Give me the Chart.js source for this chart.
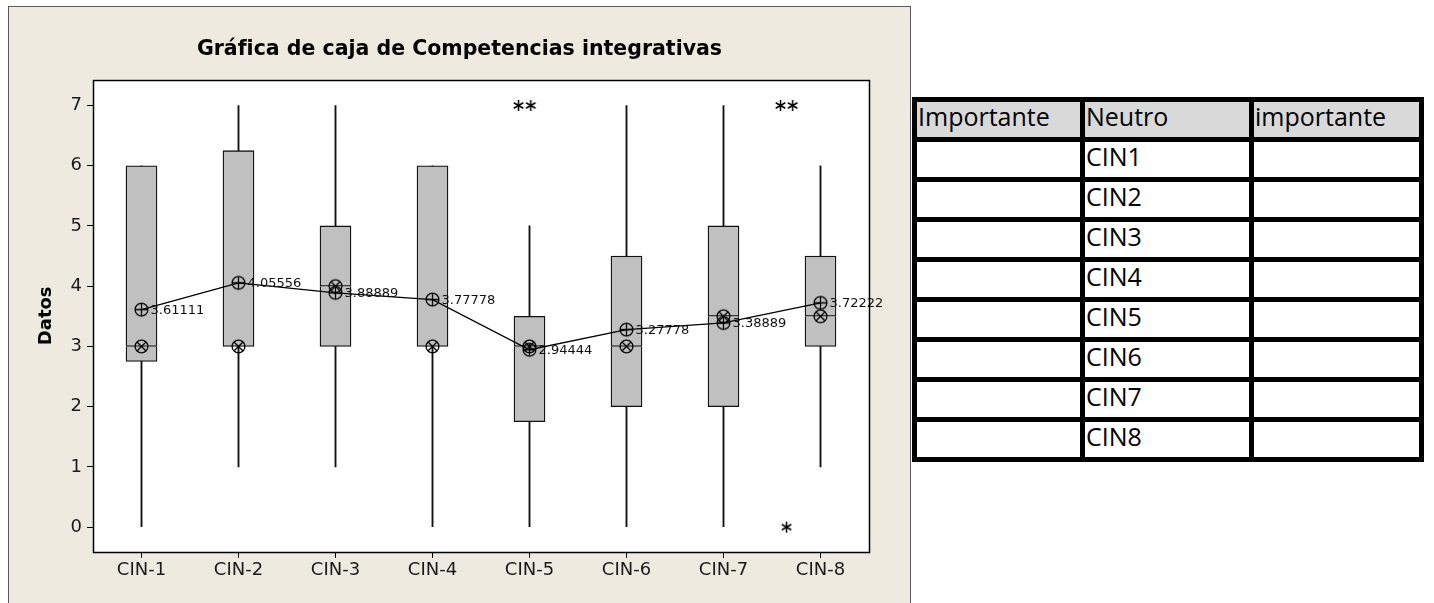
<!DOCTYPE html>
<html lang="es">
<head>
<meta charset="utf-8">
<title>Gráfica de caja de Competencias integrativas</title>
<script src="https://cdn.jsdelivr.net/npm/chart.js@4.4.1/dist/chart.umd.min.js"></script>
<style>
  html, body { margin: 0; padding: 0; background: #fff; width: 1434px; height: 603px; overflow: hidden; }
  #frame { position: absolute; left: 8px; top: 6px; width: 901px; height: 620px;
           border: 1px solid #5a5a5a; background: #EEEAE0; }
  #chart { position: absolute; left: 0; top: 0; }
  #tbl { position: absolute; left: 912px; top: 97px; display: grid;
         grid-template-columns: 163px 164px 165px; grid-auto-rows: 35px; gap: 5px;
         padding: 5px; background: #000; font-family: "Open Sans", sans-serif; font-size: 25px; color: #000; }
  #tbl div { background: #fff; line-height: 29px; padding-left: 1px; white-space: nowrap; overflow: hidden; }
  #tbl div.h { background: #D9D9D9; }
</style>
</head>
<body>
<div id="frame"><canvas id="chart" width="901" height="596"></canvas></div>
<div id="tbl"></div>
<script>
// Box plot summary per competence
const categories  = ['CIN-1', 'CIN-2', 'CIN-3', 'CIN-4', 'CIN-5', 'CIN-6', 'CIN-7', 'CIN-8'];
const whiskerLow  = [0, 1, 1, 0, 0, 0, 0, 1];
const q1          = [2.75, 3, 3, 3, 1.75, 2, 2, 3];
const medians     = [3, 3, 4, 3, 3, 3, 3.5, 3.5];
const q3          = [6, 6.25, 5, 6, 3.5, 4.5, 5, 4.5];
const whiskerHigh = [6, 7, 7, 6, 5, 7, 7, 6];
const means       = [3.61111, 4.05556, 3.88889, 3.77778, 2.94444, 3.27778, 3.38889, 3.72222];

// Atypical values (one entry per observation)
const outlierCategory = ['CIN-5', 'CIN-5', 'CIN-8', 'CIN-8', 'CIN-8'];
const outlierValues   = [7, 7, 7, 7, 0];

const yTicks = [0, 1, 2, 3, 4, 5, 6, 7];

// Classification table
const tableHeaders = ['Importante', 'Neutro', 'importante'];
const neutralItems = ['CIN1', 'CIN2', 'CIN3', 'CIN4', 'CIN5', 'CIN6', 'CIN7', 'CIN8'];

// ---- table ----
const tbl = document.getElementById('tbl');
tableHeaders.forEach(h => { const d = document.createElement('div'); d.className = 'h'; d.textContent = h; tbl.appendChild(d); });
neutralItems.forEach(item => {
  ['', item, ''].forEach(t => { const d = document.createElement('div'); d.textContent = t; tbl.appendChild(d); });
});

// ---- marker glyphs ----
function circleGlyph(kind) {
  const s = 17, c = document.createElement('canvas');
  c.width = s; c.height = s;
  const g = c.getContext('2d');
  const m = s / 2, r = 6.4;
  g.strokeStyle = '#000'; g.lineWidth = 1.3;
  g.beginPath(); g.arc(m, m, r, 0, Math.PI * 2); g.stroke();
  g.beginPath();
  if (kind === 'plus') {
    g.moveTo(m - r, m); g.lineTo(m + r, m);
    g.moveTo(m, m - r); g.lineTo(m, m + r);
  } else {
    const d = r * Math.SQRT1_2;
    g.moveTo(m - d, m - d); g.lineTo(m + d, m + d);
    g.moveTo(m + d, m - d); g.lineTo(m - d, m + d);
  }
  g.stroke();
  return c;
}
function asteriskGlyph() {
  const s = 13, c = document.createElement('canvas');
  c.width = s; c.height = s;
  const g = c.getContext('2d');
  const m = s / 2, r = 5.5;
  g.strokeStyle = '#000'; g.lineWidth = 1.5;
  g.beginPath();
  [90, 30, 150].forEach(deg => {
    const a = deg * Math.PI / 180;
    g.moveTo(m - r * Math.cos(a), m - r * Math.sin(a));
    g.lineTo(m + r * Math.cos(a), m + r * Math.sin(a));
  });
  g.stroke();
  return c;
}
const meanGlyph = circleGlyph('plus');
const medianGlyph = circleGlyph('cross');
const starGlyph = asteriskGlyph();

// Spread repeated atypical values side by side
const groups = {};
outlierCategory.forEach((cat, i) => { const k = cat + '|' + outlierValues[i]; (groups[k] = groups[k] || []).push(i); });
const outlierPoints = [];
Object.values(groups).forEach(idx => {
  idx.forEach((i, k) => {
    const shift = (k - (idx.length - 1) / 2) * 0.14;
    outlierPoints.push({ x: categories.indexOf(outlierCategory[i]) + shift, y: outlierValues[i] });
  });
});

// ---- plugins ----
const plotFrame = {
  id: 'plotFrame',
  beforeDraw(c) {
    const { ctx, chartArea: a } = c;
    ctx.save(); ctx.fillStyle = '#fff'; ctx.fillRect(a.left, a.top, a.width, a.height); ctx.restore();
  },
  afterDraw(c) {
    const { ctx, chartArea: a } = c;
    ctx.save(); ctx.strokeStyle = '#000'; ctx.lineWidth = 1.5;
    ctx.strokeRect(Math.round(a.left) + 0.5, Math.round(a.top) + 0.5, Math.round(a.width), Math.round(a.height));
    ctx.restore();
  }
};
const meanLabels = {
  id: 'meanLabels',
  afterDatasetsDraw(c) {
    const { ctx } = c;
    const meta = c.getDatasetMeta(0);
    ctx.save();
    ctx.font = '13px "DejaVu Sans"';
    ctx.fillStyle = '#111';
    ctx.textBaseline = 'middle';
    meta.data.forEach((pt, i) => ctx.fillText(String(means[i]), pt.x + 9, pt.y + 1));
    ctx.restore();
  }
};

const tickFont = { family: 'DejaVu Sans', size: 18 };

new Chart(document.getElementById('chart'), {
  type: 'bar',
  data: {
    labels: categories,
    datasets: [
      { type: 'line', label: 'Media', data: means, borderColor: '#000', borderWidth: 1.3,
        pointStyle: meanGlyph, pointRadius: 8, tension: 0, order: 0 },
      { type: 'line', label: 'Mediana', data: medians, showLine: false,
        pointStyle: medianGlyph, pointRadius: 8, order: 1 },
      { type: 'scatter', label: 'Atípicos', xAxisID: 'xj', data: outlierPoints,
        pointStyle: starGlyph, pointRadius: 6, order: 2 },
      { label: 'Q2-Q3', data: medians.map((m, i) => [m, q3[i]]), backgroundColor: '#C0C0C0',
        borderColor: '#111', borderWidth: 1.3, borderSkipped: false, barThickness: 31, grouped: false, order: 3 },
      { label: 'Q1-Q2', data: q1.map((v, i) => [v, medians[i]]), backgroundColor: '#C0C0C0',
        borderColor: '#111', borderWidth: 1.3, borderSkipped: 'top', barThickness: 31, grouped: false, order: 4 },
      { label: 'Bigotes', data: whiskerLow.map((v, i) => [v, whiskerHigh[i]]), backgroundColor: '#111',
        borderWidth: 0, barThickness: 1.2, grouped: false, order: 5 }
    ]
  },
  options: {
    responsive: false,
    animation: false,
    layout: { padding: 0 },
    plugins: {
      legend: { display: false },
      tooltip: { enabled: false },
      title: {
        display: true,
        text: 'Gráfica de caja de Competencias integrativas',
        color: '#000',
        font: { family: 'DejaVu Sans', size: 20.5, weight: 'bold' },
        padding: { top: 30, bottom: 18 }
      }
    },
    scales: {
      x: {
        type: 'category', offset: true,
        grid: { display: true, drawOnChartArea: false, drawTicks: true, tickLength: 6, color: '#000', offset: false },
        border: { display: false },
        ticks: { color: '#1a1a1a', font: tickFont, padding: 2, maxRotation: 0 },
        afterFit(s) { s.height = 51; }
      },
      xj: { type: 'linear', display: false, min: -0.5, max: categories.length - 0.5 },
      y: {
        min: -0.414, max: 7.43,
        afterBuildTicks(s) { s.ticks = yTicks.map(v => ({ value: v })); },
        grid: { display: true, drawOnChartArea: false, tickLength: 6, color: '#000' },
        border: { display: false },
        ticks: { color: '#1a1a1a', font: tickFont, padding: 5 },
        title: { display: true, text: 'Datos', color: '#000',
                 font: { family: 'DejaVu Sans', size: 18, weight: 'bold' }, padding: { top: 27, bottom: 0 } },
        afterFit(s) { s.width = 84; }
      },
      yr: {
        position: 'right', display: true,
        grid: { display: false }, border: { display: false }, ticks: { display: false },
        afterFit(s) { s.width = 41; }
      }
    }
  },
  plugins: [plotFrame, meanLabels]
});
</script>
</body>
</html>
